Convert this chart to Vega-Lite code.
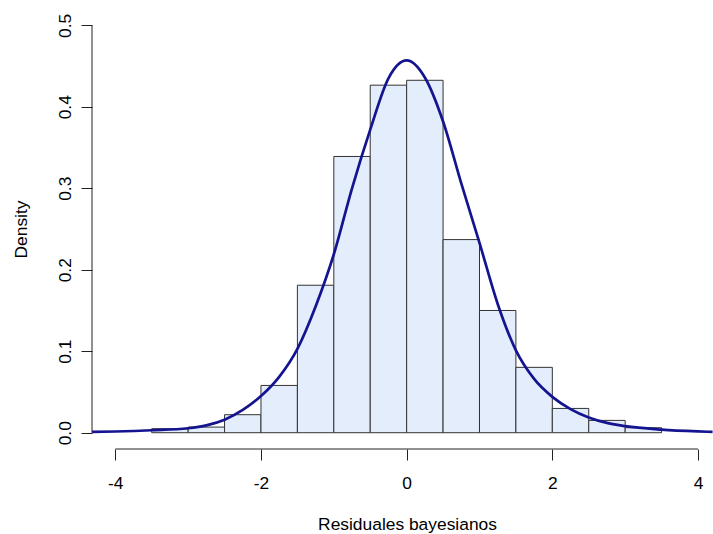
{
  "$schema": "https://vega.github.io/schema/vega-lite/v6.json",
  "autosize": {"type": "none"},
  "width": 621,
  "height": 440,
  "padding": {"left": 92, "top": 9, "right": 0, "bottom": 85},
  "background": "white",
  "config": {
    "view": {"stroke": null},
    "font": "Liberation Sans",
    "axis": {"grid": false, "domain": false, "labelFont": "Liberation Sans", "titleFont": "Liberation Sans", "labelFontSize": 17.4, "titleFontSize": 17.4, "titleFontWeight": "normal", "labelColor": "#000", "titleColor": "#000", "tickColor": "#222", "tickWidth": 1, "tickSize": 11}
  },
  "datasets": {
    "bars": [
      {"x0": -3.5, "x1": -3.0, "density": 0.0049},
      {"x0": -3.0, "x1": -2.5, "density": 0.0069},
      {"x0": -2.5, "x1": -2.0, "density": 0.0221},
      {"x0": -2.0, "x1": -1.5, "density": 0.058},
      {"x0": -1.5, "x1": -1.0, "density": 0.181},
      {"x0": -1.0, "x1": -0.5, "density": 0.339},
      {"x0": -0.5, "x1": 0.0, "density": 0.4265},
      {"x0": 0.0, "x1": 0.5, "density": 0.4325},
      {"x0": 0.5, "x1": 1.0, "density": 0.237},
      {"x0": 1.0, "x1": 1.5, "density": 0.150},
      {"x0": 1.5, "x1": 2.0, "density": 0.0802},
      {"x0": 2.0, "x1": 2.5, "density": 0.0298},
      {"x0": 2.5, "x1": 3.0, "density": 0.0151},
      {"x0": 3.0, "x1": 3.5, "density": 0.0061}
    ],
    "curve": [
      {"x0": -4.32, "density": 0.001},
      {"x0": -4.0, "density": 0.0015},
      {"x0": -3.5, "density": 0.003},
      {"x0": -3.0, "density": 0.0055},
      {"x0": -2.75, "density": 0.009},
      {"x0": -2.5, "density": 0.016},
      {"x0": -2.25, "density": 0.028},
      {"x0": -2.0, "density": 0.045},
      {"x0": -1.75, "density": 0.0686},
      {"x0": -1.5, "density": 0.103},
      {"x0": -1.25, "density": 0.155},
      {"x0": -1.0, "density": 0.219},
      {"x0": -0.75, "density": 0.300},
      {"x0": -0.5, "density": 0.372},
      {"x0": -0.25, "density": 0.435},
      {"x0": 0.0, "density": 0.457},
      {"x0": 0.25, "density": 0.436},
      {"x0": 0.5, "density": 0.382},
      {"x0": 0.75, "density": 0.306},
      {"x0": 1.0, "density": 0.233},
      {"x0": 1.25, "density": 0.158},
      {"x0": 1.5, "density": 0.101},
      {"x0": 1.75, "density": 0.066},
      {"x0": 2.0, "density": 0.044},
      {"x0": 2.25, "density": 0.029},
      {"x0": 2.5, "density": 0.0187},
      {"x0": 2.75, "density": 0.012},
      {"x0": 3.0, "density": 0.008},
      {"x0": 3.5, "density": 0.0038},
      {"x0": 4.0, "density": 0.0016},
      {"x0": 4.2, "density": 0.001}
    ],
    "xaxisline": [{"x0": -4, "x1": 4, "density": -0.02}],
    "yaxisline": [{"x0": -4.32, "density": 0, "d2": 0.5}]
  },
  "layer": [
    {
      "data": {"name": "bars"},
      "mark": {"type": "bar", "fill": "#E3EDFB", "stroke": "#333", "strokeWidth": 1},
      "encoding": {
        "x": {"field": "x0", "type": "quantitative", "scale": {"domain": [-4.32, 4.206], "nice": false, "zero": false},
          "axis": {"values": [-4, -2, 0, 2, 4], "format": "d", "labelExpr": "replace(datum.label, '\u2212', '-')", "labelPadding": 14, "title": "Residuales bayesianos", "titleBaseline": "alphabetic", "titleX": 315, "titleY": 80, "titleAlign": "center"}},
        "x2": {"field": "x1"},
        "y": {"field": "density", "type": "quantitative", "scale": {"domain": [-0.02, 0.52], "nice": false, "zero": false},
          "axis": {"values": [0, 0.1, 0.2, 0.3, 0.4, 0.5], "format": ".1f", "labelAngle": -90, "labelAlign": "center", "labelBaseline": "alphabetic", "labelPadding": 10.5, "title": "Density", "titleAngle": 270, "titleAlign": "center", "titleBaseline": "alphabetic", "titleX": -66, "titleY": 220}},
        "y2": {"datum": 0}
      }
    },
    {
      "data": {"name": "curve"},
      "mark": {"type": "line", "color": "#141490", "strokeWidth": 2.7, "interpolate": "monotone", "clip": true},
      "encoding": {
        "x": {"field": "x0", "type": "quantitative"},
        "y": {"field": "density", "type": "quantitative"}
      }
    },
    {
      "data": {"name": "xaxisline"},
      "mark": {"type": "rule", "color": "#222", "strokeWidth": 1},
      "encoding": {
        "x": {"field": "x0", "type": "quantitative"},
        "x2": {"field": "x1"},
        "y": {"field": "density", "type": "quantitative"}
      }
    },
    {
      "data": {"name": "yaxisline"},
      "mark": {"type": "rule", "color": "#222", "strokeWidth": 1},
      "encoding": {
        "y": {"field": "density", "type": "quantitative"},
        "y2": {"field": "d2"},
        "x": {"field": "x0", "type": "quantitative"}
      }
    }
  ]
}
